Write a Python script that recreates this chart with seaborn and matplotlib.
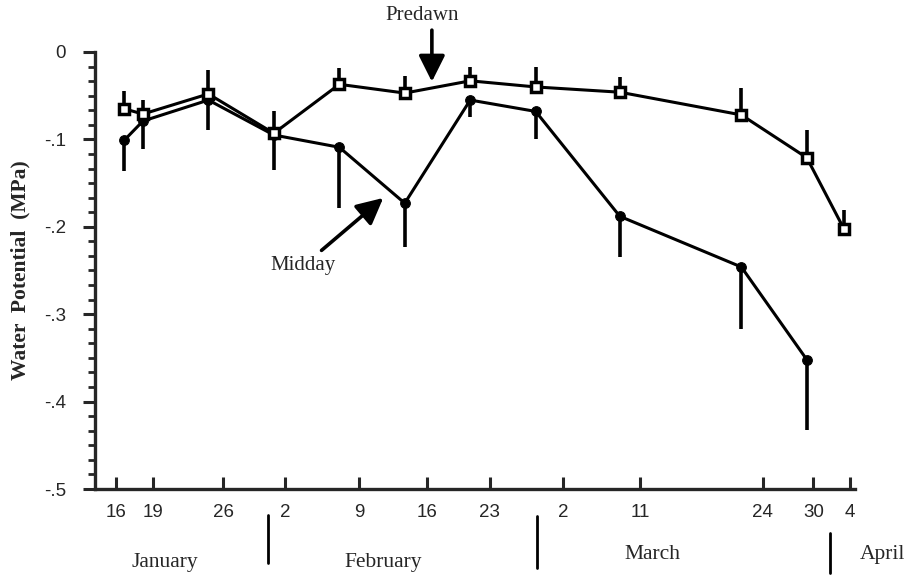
import numpy as np
import pandas as pd
import seaborn as sns
import matplotlib.pyplot as plt
from matplotlib.ticker import FixedLocator

# water potential, predawn vs midday, Jan-Apr
# x is day of year (Jan 1 = 1)

days_predawn = [17, 19, 26, 33, 40, 47, 54, 61, 70, 83, 90, 94]
psi_predawn = [-0.065, -0.071, -0.048, -0.093, -0.037, -0.047, -0.033, -0.040, -0.046, -0.072, -0.121, -0.203]
err_predawn = [0.020, 0.016, 0.027, 0.026, 0.019, 0.020, 0.016, 0.023, 0.017, 0.031, 0.032, 0.022]

days_midday = [17, 19, 26, 33, 40, 47, 54, 61, 70, 83, 90]
psi_midday = [-0.101, -0.079, -0.055, -0.095, -0.109, -0.173, -0.055, -0.068, -0.188, -0.246, -0.352]
err_midday = [0.035, 0.032, 0.034, 0.040, 0.070, 0.050, 0.019, 0.032, 0.047, 0.071, 0.081]

# tick marks as they sit on the drawn axis
xtick_pos = [16.1, 20.1, 27.6, 34.2, 42.1, 49.4, 56.1, 63.9, 72.2, 85.3, 90.7, 94.6]
xtick_labels = ["16", "19", "26", "2", "9", "16", "23", "2", "11", "24", "30", "4"]
ytick_pos = [0, -0.1, -0.2, -0.3, -0.4, -0.5]
ytick_labels = ["0", "-.1", "-.2", "-.3", "-.4", "-.5"]
months = ["January", "February", "March", "April"]

sns.set_style("ticks")
plt.rcParams["font.family"] = ["Liberation Sans", "DejaVu Sans"]
serif = ["Liberation Serif", "DejaVu Serif"]

fig = plt.figure(figsize=(9.15, 5.77), dpi=100)
ax = fig.add_axes([0.1038, 0.1525, 0.8306, 0.7574])

pre = pd.DataFrame({"day": days_predawn, "psi": psi_predawn})
mid = pd.DataFrame({"day": days_midday, "psi": psi_midday})

# error bars: predawn up only, midday down only
ax.errorbar(days_predawn, psi_predawn, yerr=[np.zeros(len(err_predawn)), err_predawn],
            fmt="none", ecolor="black", elinewidth=2.6, capsize=0, zorder=2)
ax.errorbar(days_midday, psi_midday, yerr=[err_midday, np.zeros(len(err_midday))],
            fmt="none", ecolor="black", elinewidth=2.6, capsize=0, zorder=2)

sns.lineplot(data=mid, x="day", y="psi", ax=ax, color="black", linewidth=2.2,
             marker="o", markersize=7, markerfacecolor="black", markeredgecolor="black",
             zorder=3, clip_on=False)
sns.lineplot(data=pre, x="day", y="psi", ax=ax, color="black", linewidth=2.2,
             marker="s", markersize=7, markerfacecolor="white", markeredgecolor="black",
             markeredgewidth=2.5, zorder=4, clip_on=False)

ax.set_xlim(13.87, 95.15)
ax.set_ylim(-0.5, 0)
sns.despine(ax=ax)
for s in ["left", "bottom"]:
    ax.spines[s].set_linewidth(2.4)

ax.xaxis.set_major_locator(FixedLocator(xtick_pos))
ax.set_xticklabels(xtick_labels)
ax.yaxis.set_major_locator(FixedLocator(ytick_pos))
ax.set_yticklabels(ytick_labels)
ax.yaxis.set_minor_locator(FixedLocator(np.linspace(-0.5, 0, 31)))
ax.tick_params(axis="x", direction="in", length=9, width=2.2, pad=11, labelsize=13.5)
ax.tick_params(axis="y", which="major", direction="out", length=9, width=2.2, pad=12, labelsize=13.5)
ax.tick_params(axis="y", which="minor", direction="out", length=5, width=2.0)
ax.set_xlabel("")
ax.set_ylabel("Water  Potential  (MPa)", family=serif, fontsize=15.5, fontweight="bold", labelpad=12)
ax.yaxis.set_label_coords(-0.085, 0.5)

# arrows + labels
arrow = dict(arrowstyle="-|>,head_length=0.8,head_width=0.4", mutation_scale=20,
             lw=2.6, color="black", shrinkA=0, shrinkB=0)
ax.text(48.9, 0.042, "Predawn", ha="center", va="center", family=serif, fontsize=15, clip_on=False)
ax.annotate("", xy=(49.9, -0.034), xytext=(49.9, 0.025), annotation_clip=False, arrowprops=arrow)
ax.text(36.1, -0.244, "Midday", ha="center", va="center", family=serif, fontsize=15, clip_on=False)
ax.annotate("", xy=(44.7, -0.167), xytext=(38.1, -0.227), annotation_clip=False, arrowprops=arrow)

# month names under the axis
trans = ax.get_xaxis_transform()
month_x = [21.35, 44.7, 73.5, 98.1]
month_y = [-0.169, -0.169, -0.151, -0.151]
for name, mx, my in zip(months, month_x, month_y):
    ax.text(mx, my, name, transform=trans, ha="center", va="center",
            family=serif, fontsize=15.5, clip_on=False)

for sx, y0, y1 in [(32.37, -0.06, -0.169), (61.14, -0.062, -0.181), (92.48, -0.101, -0.192)]:
    ax.plot([sx, sx], [y0, y1], transform=trans, color="black", lw=2.0, clip_on=False)

plt.savefig("out.png", dpi=100)
